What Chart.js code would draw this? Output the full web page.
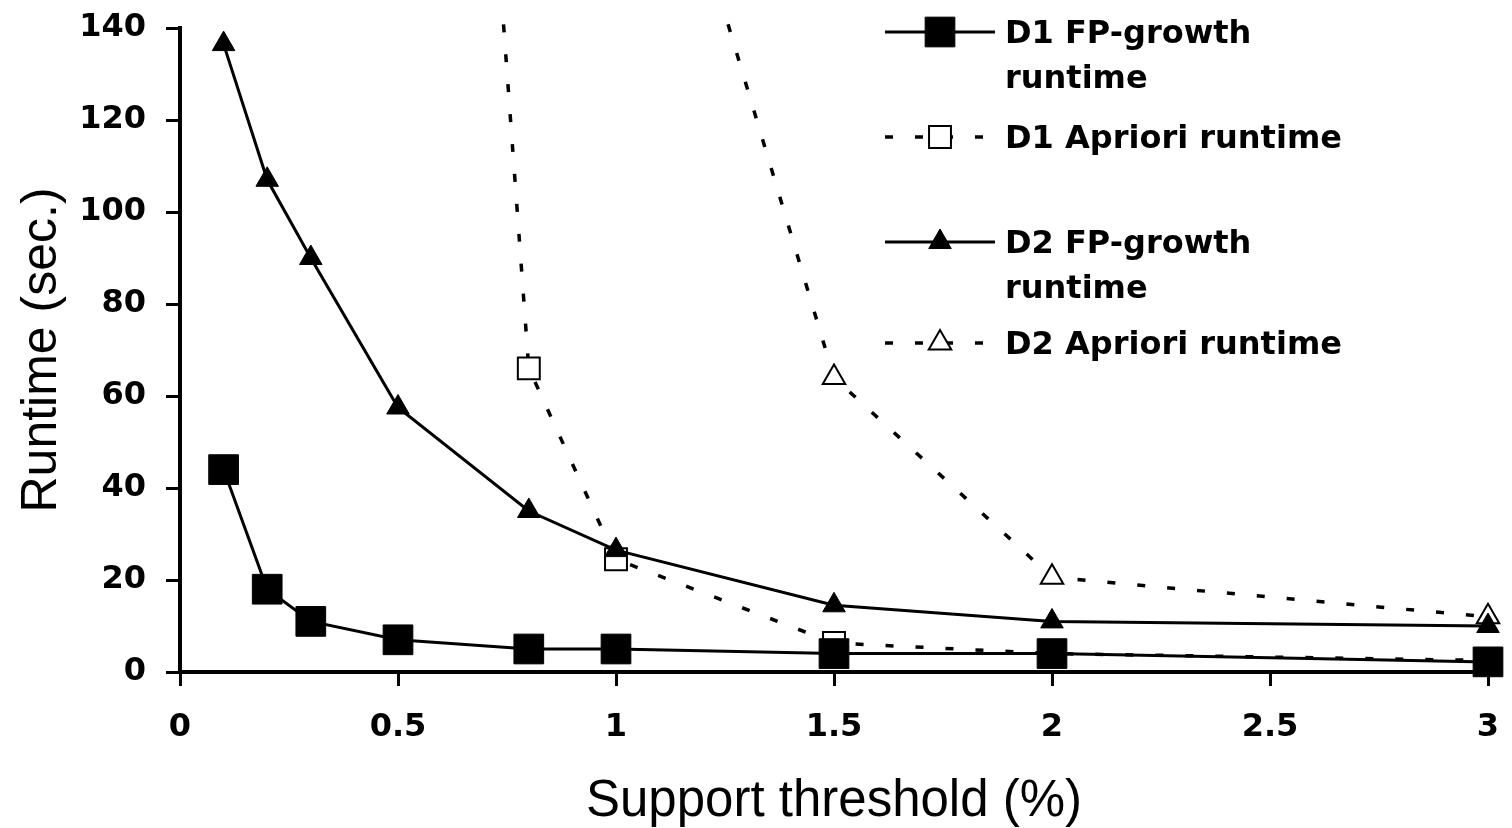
<!DOCTYPE html>
<html>
<head>
<title>Runtime vs support threshold</title>
<script src="https://cdn.jsdelivr.net/npm/chart.js"></script>
<style>
html,body{margin:0;padding:0;background:#fff;}
#wrap{width:1512px;height:828px;}
</style>
</head>
<body>
<div id="wrap"><canvas id="runtimeChart"></canvas></div>
<script>
// support thresholds (%) shared by all series
const thresholds = [0.1, 0.2, 0.3, 0.5, 0.8, 1, 1.5, 2, 3];
// runtimes in seconds, null = no point at that threshold
const d1FpGrowth = [44, 18, 11, 7, 5, 5, 4, 4, 2.2];
const d1Apriori  = [null, null, null, 453, 66, 24.5, 6.3, 4, 2.5];
const d2FpGrowth = [136.5, 107, 90, 57.5, 35, 26.5, 14.5, 11, 10];
const d2Apriori  = [null, null, null, null, null, 222, 64, 20.6, 12];
const seriesNames = [['D1 FP-growth', 'runtime'], ['D1 Apriori runtime'], ['D2 FP-growth', 'runtime'], ['D2 Apriori runtime']];
const xTicks = [0, 0.5, 1, 1.5, 2, 2.5, 3];
const yTicks = [0, 20, 40, 60, 80, 100, 120, 140];

const pts = vals => thresholds.map((x, i) => ({x: x, y: vals[i]})).filter(p => p.y !== null);

const common = {borderColor: '#000', borderWidth: 3, fill: false, tension: 0,
    pointBorderColor: '#000', clip: {left: 30, top: 16, right: 30, bottom: 30}};

// legend drawn at the right, inside the plot like the original
const sideLegend = {
    id: 'sideLegend',
    afterDraw(chart) {
        const ctx = chart.ctx;
        const rows = [32, 137, 242, 343];
        ctx.save();
        chart.data.datasets.forEach((ds, i) => {
            const y = rows[i];
            ctx.strokeStyle = '#000';
            ctx.lineWidth = ds.borderWidth;
            ctx.setLineDash(ds.borderDash || []);
            ctx.beginPath(); ctx.moveTo(885, y); ctx.lineTo(995, y); ctx.stroke();
            ctx.setLineDash([]);
            ctx.fillStyle = ds.pointBackgroundColor;
            ctx.lineWidth = ds.pointBorderWidth;
            Chart.helpers.drawPoint(ctx, {pointStyle: ds.pointStyle, radius: ds.pointRadius,
                borderWidth: ds.pointBorderWidth, rotation: 0}, 940, y);
            ctx.fillStyle = '#000';
            ctx.font = 'bold 32px "DejaVu Sans"';
            ctx.textBaseline = 'alphabetic';
            seriesNames[i].forEach((line, j) => ctx.fillText(line, 1005, y + 11 + j * 45));
        });
        ctx.restore();
    }
};

const tickFont = {family: '"DejaVu Sans"', size: 32, weight: 'bold'};
const titleFont = {family: '"Liberation Sans", Arial', size: 50};

new Chart(document.getElementById('runtimeChart'), {
    type: 'line',
    data: {datasets: [
        {...common, label: 'D1 FP-growth runtime', data: pts(d1FpGrowth), order: 0,
            pointStyle: 'rect', pointRadius: 21, pointBackgroundColor: '#000', pointBorderWidth: 1},
        {...common, label: 'D1 Apriori runtime', data: pts(d1Apriori), order: 2,
            borderWidth: 3.5, borderDash: [8, 22],
            pointStyle: 'rect', pointRadius: 15.5, pointBackgroundColor: '#fff', pointBorderWidth: 2},
        {...common, label: 'D2 FP-growth runtime', data: pts(d2FpGrowth), order: 1,
            pointStyle: 'triangle', pointRadius: 13, pointBackgroundColor: '#000', pointBorderWidth: 1},
        {...common, label: 'D2 Apriori runtime', data: pts(d2Apriori), order: 3,
            borderWidth: 3.5, borderDash: [8, 22],
            pointStyle: 'triangle', pointRadius: 13, pointBackgroundColor: '#fff', pointBorderWidth: 2}
    ]},
    options: {
        responsive: true,
        maintainAspectRatio: false,
        animation: false,
        spanGaps: true,
        layout: {padding: {top: 28, right: 24, left: 0, bottom: 0}},
        plugins: {legend: {display: false}, tooltip: {enabled: false}},
        scales: {
            x: {
                type: 'linear', min: 0, max: 3,
                afterBuildTicks: s => { s.ticks = xTicks.map(v => ({value: v})); },
                afterFit: s => { s.height = 156; s.paddingLeft = 0; s.paddingRight = 0; },
                ticks: {font: tickFont, color: '#000', padding: 22, maxRotation: 0, autoSkip: false,
                    callback: v => String(v)},
                grid: {drawOnChartArea: false, color: '#000', tickLength: 14, tickWidth: 3},
                border: {color: '#000', width: 4},
                title: {display: true, text: 'Support threshold (%)', color: '#000',
                    font: {...titleFont, size: 51, lineHeight: 1}, padding: {top: 0, bottom: 1}}
            },
            y: {
                type: 'linear', min: 0, max: 140,
                afterBuildTicks: s => { s.ticks = yTicks.map(v => ({value: v})); },
                afterFit: s => { s.width = 180; s.paddingTop = 0; s.paddingBottom = 0; },
                ticks: {font: tickFont, color: '#000', padding: 20, callback: v => String(v)},
                grid: {drawOnChartArea: false, color: '#000', tickLength: 14, tickWidth: 3},
                border: {color: '#000', width: 4},
                title: {display: true, text: 'Runtime (sec.)', color: '#000',
                    font: titleFont, padding: {top: 12, bottom: 0}}
            }
        }
    },
    plugins: [sideLegend]
});
</script>
</body>
</html>
